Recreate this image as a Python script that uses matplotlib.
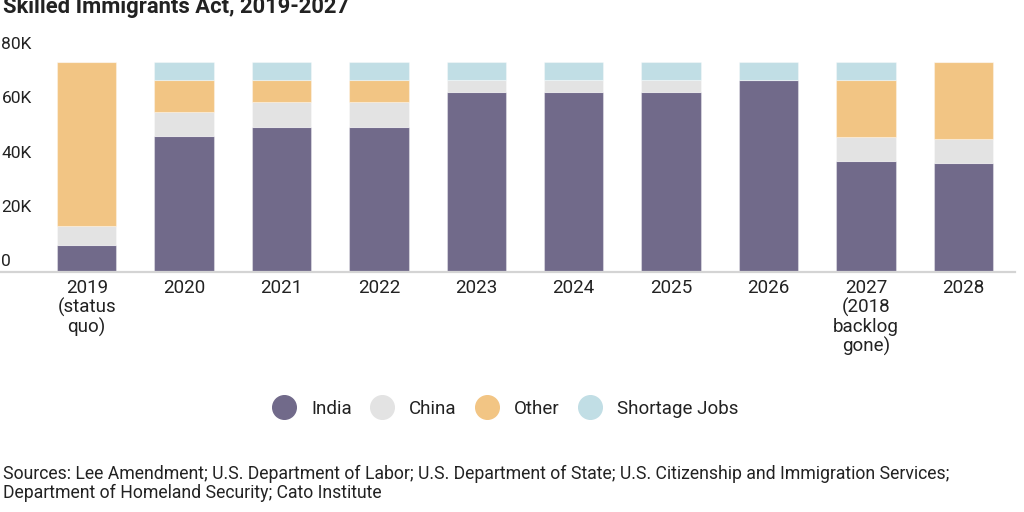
import matplotlib
matplotlib.use("Agg")
from matplotlib import pyplot as plt
from matplotlib.lines import Line2D
import numpy as np

years = ["2019\n(status\nquo)", "2020", "2021", "2022", "2023", "2024", "2025",
         "2026", "2027\n(2018\nbacklog\ngone)", "2028"]
india = [10.0, 50.2, 53.6, 53.6, 66.2, 66.2, 66.2, 70.8, 41.0, 40.1]
china = [7.0, 8.7, 9.1, 9.1, 4.7, 4.7, 4.7, 0.0, 8.8, 9.1]
other = [60.5, 11.9, 8.1, 8.1, 0.0, 0.0, 0.0, 0.0, 21.0, 28.3]
shortage = [0.0, 6.7, 6.7, 6.7, 6.6, 6.6, 6.6, 6.7, 6.7, 0.0]
series = ["India", "China", "Other", "Shortage Jobs"]
colors = ["#716a8a", "#e3e3e3", "#f2c584", "#c1dee5"]
yticks = [0, 20, 40, 60, 80]

plt.rcParams['font.family'] = ['Roboto', 'DejaVu Sans']

fig = plt.figure(figsize=(10.24, 5.12), dpi=100)
ax = fig.add_axes([0.0, 1 - 272 / 512, 1015 / 1024, 217 / 512])

x = np.arange(len(years))
bottom = np.zeros(len(years))
for vals, col in zip([india, china, other, shortage], colors):
    ax.bar(x, vals, bottom=bottom, width=0.61, color=col,
           edgecolor=(1, 1, 1, 0.35), linewidth=0.8)
    bottom += np.array(vals)

ax.set_xlim(-0.89, 9.53)
ax.set_ylim(0, 80)
ax.set_yticks([])
ax.set_xticks(x)
ax.set_xticklabels(years, fontsize=13.5, color="#222222", linespacing=1.05)
ax.tick_params(axis="x", length=0, pad=5)
for s in ["top", "right", "left"]:
    ax.spines[s].set_visible(False)
ax.spines["bottom"].set_color("#d4d4d4")
ax.spines["bottom"].set_linewidth(1.6)

# y labels sit inside the plot, just above their value
for t in yticks:
    lab = "0" if t == 0 else f"{t}K"
    ax.annotate(lab, xy=(0, t), xycoords=("axes fraction", "data"),
                xytext=(1, 2), textcoords="offset points",
                ha="left", va="bottom", fontsize=12.5, color="#222222")

handles = [Line2D([], [], marker="o", linestyle="", markersize=17,
                  markerfacecolor=c, markeredgecolor=c) for c in colors]
fig.legend(handles, series, loc="center", bbox_to_anchor=(0.49, 1 - 409 / 512),
           ncol=4, frameon=False, fontsize=13.5, handletextpad=0.45,
           columnspacing=0.6, labelcolor="#222222")

fig.text(0.003, 1 - 13 / 512, "Skilled Immigrants Act, 2019-2027",
         fontsize=15.8, fontweight="bold", color="#222222", va="baseline")

fig.text(0.003, 1 - 465 / 512,
         "Sources: Lee Amendment; U.S. Department of Labor; U.S. Department of State; "
         "U.S. Citizenship and Immigration Services;\n"
         "Department of Homeland Security; Cato Institute",
         fontsize=12.7, color="#222222", va="top", linespacing=1.05)

fig.savefig("out.png", dpi=100)
